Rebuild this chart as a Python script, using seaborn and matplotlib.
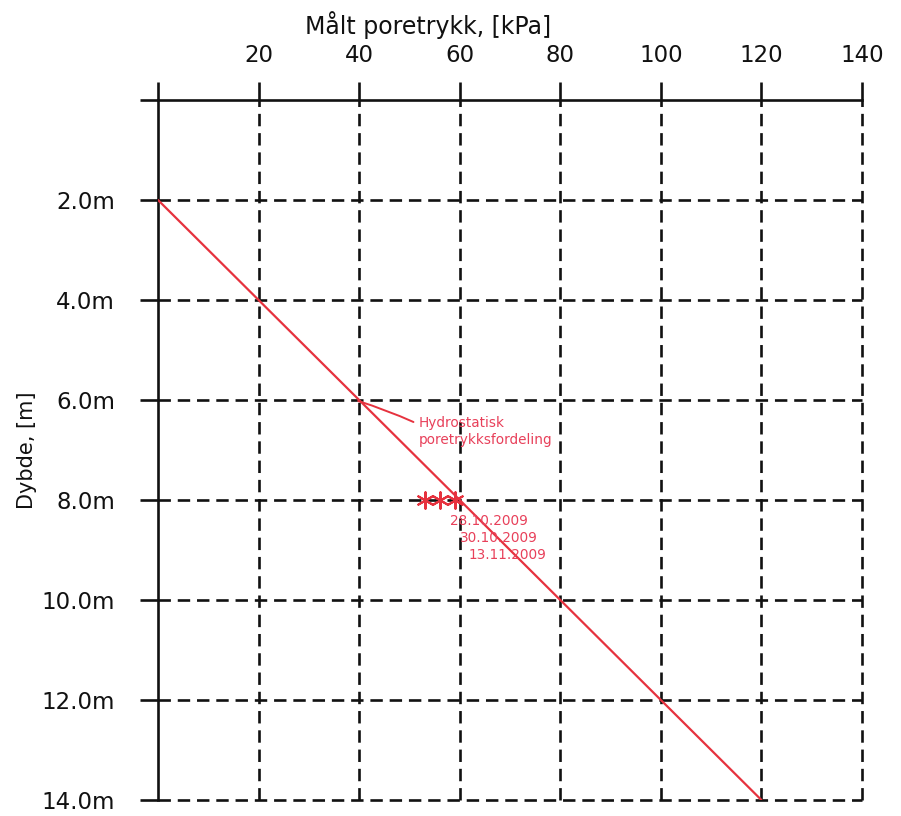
import matplotlib
matplotlib.use("Agg")
import matplotlib.pyplot as plt
import seaborn as sns
import pandas as pd

# Axis ticks
pressure_ticks = [0, 20, 40, 60, 80, 100, 120, 140]
pressure_labels = ["", "20", "40", "60", "80", "100", "120", "140"]
depth_ticks = [0, 2, 4, 6, 8, 10, 12, 14]
depth_labels = ["", "2.0m", "4.0m", "6.0m", "8.0m", "10.0m", "12.0m", "14.0m"]

# Hydrostatic pore pressure distribution (water table at 2 m)
hydro_pressure = [0.0, 120.0]
hydro_depth = [2.0, 14.0]

# Measured pore pressure at 8 m depth
meas_dates = ["28.10.2009", "30.10.2009", "13.11.2009"]
meas_pressure = [53.0, 56.0, 59.0]
meas_depth = [8.0, 8.0, 8.0]

RED = "#e6323e"
TXT_RED = "#e8405a"
INK = "#111111"

sns.set_theme(style="white")
plt.rcParams["font.family"] = ["DejaVu Sans"]

fig = plt.figure(figsize=(9.01, 8.16), dpi=100)
ax = fig.add_axes([158 / 901, 1 - 800 / 816, 704 / 901, 700 / 816])

hydro = pd.DataFrame({"p": hydro_pressure, "z": hydro_depth})
meas = pd.DataFrame({"p": meas_pressure, "z": meas_depth, "dato": meas_dates})

sns.lineplot(data=hydro, x="p", y="z", ax=ax, color=RED, lw=1.6, sort=False, zorder=3)
sns.scatterplot(data=meas, x="p", y="z", ax=ax, marker=(6, 2, 0), s=140,
                color=RED, linewidth=1.5, zorder=4)

ax.set_xlim(0, 140)
ax.set_ylim(14, 0)
ax.xaxis.tick_top()
ax.xaxis.set_label_position("top")
ax.set_xticks(pressure_ticks)
ax.set_xticklabels(pressure_labels)
ax.set_yticks(depth_ticks)
ax.set_yticklabels(depth_labels)

ax.set_axisbelow(True)
ax.grid(True, color=INK, lw=1.9, linestyle=(0, (4.7, 2.6)))
for gl in ax.get_xgridlines() + ax.get_ygridlines():
    gl.set_clip_on(False)
# the solid axis lines already sit at 0 kPa and 0 m
ax.get_xgridlines()[0].set_visible(False)
ax.get_ygridlines()[0].set_visible(False)

for side in ("right", "bottom"):
    ax.spines[side].set_visible(False)
for side in ("left", "top"):
    ax.spines[side].set_color(INK)
    ax.spines[side].set_linewidth(1.9)

ax.tick_params(axis="both", direction="out", length=13, width=1.9, color=INK,
               labelsize=16.5, labelcolor=INK)
ax.tick_params(axis="x", pad=11, top=True, bottom=False)
ax.tick_params(axis="y", pad=18, left=True)

ax.set_xlabel("Målt poretrykk, [kPa]", fontsize=17, color=INK)
ax.xaxis.set_label_coords(0.384, 1.094)
ax.set_ylabel("Dybde, [m]", fontsize=15, color=INK)
ax.yaxis.set_label_coords(-0.172, 0.5)

# Leader line and label for the hydrostatic line
ax.annotate("", xy=(39.8, 6.02), xytext=(50.8, 6.44),
            arrowprops=dict(arrowstyle="-", color=RED, lw=1.4,
                            connectionstyle="arc3,rad=0.03",
                            shrinkA=0, shrinkB=0))
for line, (tx, ty) in zip(["Hydrostatisk", "poretrykksfordeling"],
                          [(51.9, 6.46), (51.9, 6.80)]):
    ax.text(tx, ty, line, color=TXT_RED, fontsize=9.8, ha="left", va="center")

# Measurement dates
for d, (tx, ty) in zip(meas_dates, [(58.1, 8.42), (60.0, 8.76), (61.8, 9.10)]):
    ax.text(tx, ty, d, color=TXT_RED, fontsize=9.8, ha="left", va="center")

fig.savefig("out.png", dpi=100)
